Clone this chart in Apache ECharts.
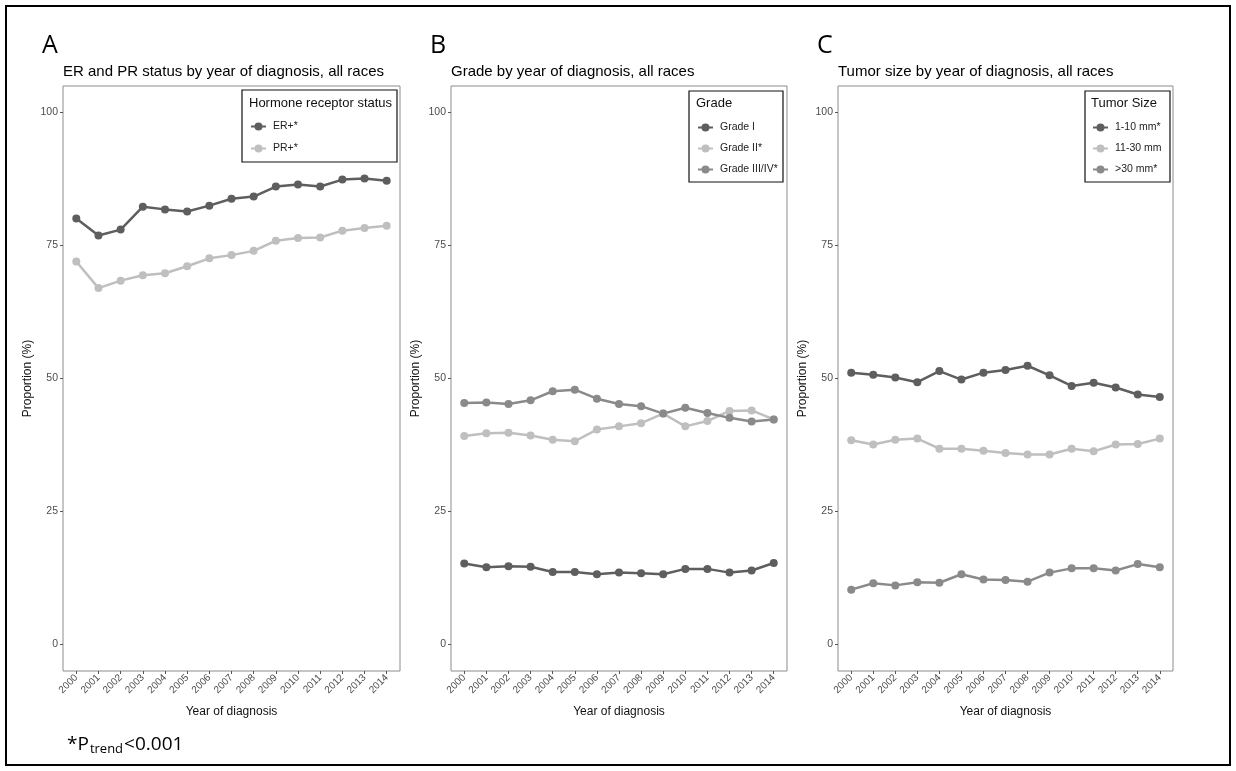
<!DOCTYPE html>
<html>
<head>
<meta charset="utf-8">
<script src="https://cdn.jsdelivr.net/npm/echarts@6/dist/echarts.min.js"></script>
<style>
  html, body { margin: 0; padding: 0; background: #fff; }
  #chart { width: 1236px; height: 771px; }
</style>
</head>
<body>
<div id="chart"></div>
<script>
// years and tick values
const years = [2000, 2001, 2002, 2003, 2004, 2005, 2006, 2007, 2008, 2009, 2010, 2011, 2012, 2013, 2014];
const yTicks = [0, 25, 50, 75, 100];

// panel A - hormone receptor status
const erPos = [80.1, 76.9, 78.0, 82.3, 81.8, 81.4, 82.5, 83.8, 84.2, 86.1, 86.5, 86.1, 87.4, 87.6, 87.2];
const prPos = [72.0, 67.0, 68.4, 69.4, 69.8, 71.1, 72.6, 73.2, 74.0, 75.9, 76.4, 76.5, 77.8, 78.3, 78.7];

// panel B - grade
const grade1 = [15.2, 14.5, 14.7, 14.6, 13.6, 13.6, 13.2, 13.5, 13.4, 13.2, 14.2, 14.2, 13.5, 13.9, 15.3];
const grade2 = [39.2, 39.7, 39.8, 39.3, 38.5, 38.2, 40.4, 41.0, 41.6, 43.4, 41.0, 42.0, 43.9, 44.0, 42.3];
const grade34 = [45.4, 45.5, 45.2, 45.9, 47.6, 47.9, 46.2, 45.2, 44.8, 43.4, 44.5, 43.5, 42.6, 41.9, 42.3];

// panel C - tumor size
const size1to10 = [51.1, 50.7, 50.2, 49.3, 51.4, 49.8, 51.1, 51.6, 52.4, 50.6, 48.6, 49.2, 48.3, 47.0, 46.5];
const size11to30 = [38.4, 37.6, 38.5, 38.7, 36.8, 36.8, 36.4, 36.0, 35.7, 35.7, 36.8, 36.3, 37.6, 37.7, 38.7];
const sizeOver30 = [10.3, 11.5, 11.1, 11.7, 11.6, 13.2, 12.2, 12.1, 11.8, 13.5, 14.3, 14.3, 13.9, 15.1, 14.5];

const DARK = "#5e5e5e", LIGHT = "#bfbfbf", MID = "#8a8a8a";
const FONT = "Liberation Sans";

const panels = [
  { left: 63, width: 337 },
  { left: 451, width: 336 },
  { left: 838, width: 335 },
];

function pairs(vals) {
  return years.map((y, i) => [y, vals[i]]);
}

function mkSeries(name, vals, color, idx) {
  return {
    name: name,
    type: "line",
    xAxisIndex: idx,
    yAxisIndex: idx,
    data: pairs(vals),
    symbol: "circle",
    symbolSize: 8,
    color: color,
    lineStyle: { width: 2.5, color: color },
    itemStyle: { color: color },
    emphasis: { disabled: true },
  };
}

const chart = echarts.init(document.getElementById("chart"));

const option = {
  animation: false,
  textStyle: { fontFamily: FONT },
  grid: panels.map((p) => ({
    left: p.left,
    top: 86,
    width: p.width,
    height: 585,
    show: true,
    borderColor: "#8c8c8c",
    borderWidth: 1,
    backgroundColor: "#fff",
  })),
  xAxis: panels.map((p, i) => ({
    type: "value",
    gridIndex: i,
    min: 1999.4,
    max: 2014.6,
    name: "Year of diagnosis",
    nameLocation: "middle",
    nameGap: 35,
    nameTextStyle: { fontSize: 12, color: "#111", fontFamily: FONT },
    axisLine: { show: false, onZero: false },
    splitLine: { show: false },
    axisTick: { show: true, length: 3, lineStyle: { color: "#555" }, customValues: years },
    axisLabel: {
      rotate: 45,
      fontSize: 10,
      color: "#4d4d4d",
      margin: 5,
      customValues: years,
      formatter: (v) => String(v),
    },
  })),
  yAxis: panels.map((p, i) => ({
    type: "value",
    gridIndex: i,
    min: -5,
    max: 105,
    name: "Proportion (%)",
    nameLocation: "middle",
    nameGap: 29,
    nameTextStyle: { fontSize: 12, color: "#111", fontFamily: FONT },
    axisLine: { show: false, onZero: false },
    splitLine: { show: false },
    axisTick: { show: true, length: 3, lineStyle: { color: "#555" }, customValues: yTicks },
    axisLabel: { fontSize: 10.5, color: "#4d4d4d", margin: 5, customValues: yTicks },
  })),
  legend: [
    {
      data: ["ER+*", "PR+*"],
      orient: "vertical",
      left: 250,
      top: 121,
      padding: 0,
      itemWidth: 15,
      itemHeight: 10,
      itemGap: 11,
      selectedMode: false,
      textStyle: { fontSize: 10.5, color: "#222", padding: [0, 0, 0, 2] },
    },
    {
      data: ["Grade I", "Grade II*", "Grade III/IV*"],
      orient: "vertical",
      left: 697,
      top: 122,
      padding: 0,
      itemWidth: 15,
      itemHeight: 10,
      itemGap: 10,
      selectedMode: false,
      textStyle: { fontSize: 10.5, color: "#222", padding: [0, 0, 0, 2] },
    },
    {
      data: ["1-10 mm*", "11-30 mm", ">30 mm*"],
      orient: "vertical",
      left: 1092,
      top: 122,
      padding: 0,
      itemWidth: 15,
      itemHeight: 10,
      itemGap: 10,
      selectedMode: false,
      textStyle: { fontSize: 10.5, color: "#222", padding: [0, 0, 0, 2] },
    },
  ],
  graphic: [
    // outer frame
    { type: "rect", shape: { x: 6, y: 6, width: 1224, height: 759 }, style: { fill: "none", stroke: "#000", lineWidth: 2 }, z: 100 },
    // panel letters
    { type: "text", left: 42, top: 33, style: { text: "A", fontSize: 25, fontFamily: "Open Sans", fill: "#000" } },
    { type: "text", left: 430, top: 33, style: { text: "B", fontSize: 25, fontFamily: "Open Sans", fill: "#000" } },
    { type: "text", left: 817, top: 33, style: { text: "C", fontSize: 25, fontFamily: "Open Sans", fill: "#000" } },
    // panel titles
    { type: "text", left: 63, top: 64, style: { text: "ER and PR status by year of diagnosis, all races", fontSize: 15, fontFamily: FONT, fill: "#000" } },
    { type: "text", left: 451, top: 64, style: { text: "Grade by year of diagnosis, all races", fontSize: 15, fontFamily: FONT, fill: "#000" } },
    { type: "text", left: 838, top: 64, style: { text: "Tumor size by year of diagnosis, all races", fontSize: 15, fontFamily: FONT, fill: "#000" } },
    // legend boxes
    { type: "rect", shape: { x: 242, y: 90, width: 155, height: 72 }, style: { fill: "#fff", stroke: "#111", lineWidth: 1.2 }, z: 1 },
    { type: "rect", shape: { x: 689, y: 91, width: 94, height: 91 }, style: { fill: "#fff", stroke: "#111", lineWidth: 1.2 }, z: 1 },
    { type: "rect", shape: { x: 1085, y: 91, width: 85, height: 91 }, style: { fill: "#fff", stroke: "#111", lineWidth: 1.2 }, z: 1 },
    // legend titles
    { type: "text", left: 249, top: 97, z: 2, style: { text: "Hormone receptor status", fontSize: 13, fontFamily: FONT, fill: "#111" } },
    { type: "text", left: 696, top: 97, z: 2, style: { text: "Grade", fontSize: 13, fontFamily: FONT, fill: "#111" } },
    { type: "text", left: 1091, top: 97, z: 2, style: { text: "Tumor Size", fontSize: 13, fontFamily: FONT, fill: "#111" } },
    // footnote
    {
      type: "text",
      left: 67,
      top: 733,
      style: {
        text: "{a|*P}{b|trend}{a|<0.001}",
        rich: {
          a: { fontSize: 19, fontFamily: "Open Sans", fill: "#000", lineHeight: 26 },
          b: { fontSize: 13, fontFamily: "Open Sans", fill: "#000", lineHeight: 26, padding: [10, 1, 0, 1] },
        },
      },
    },
  ],
  series: [
    mkSeries("ER+*", erPos, DARK, 0),
    mkSeries("PR+*", prPos, LIGHT, 0),
    mkSeries("Grade I", grade1, DARK, 1),
    mkSeries("Grade II*", grade2, LIGHT, 1),
    mkSeries("Grade III/IV*", grade34, MID, 1),
    mkSeries("1-10 mm*", size1to10, DARK, 2),
    mkSeries("11-30 mm", size11to30, LIGHT, 2),
    mkSeries(">30 mm*", sizeOver30, MID, 2),
  ],
};

chart.setOption(option);
</script>
</body>
</html>
